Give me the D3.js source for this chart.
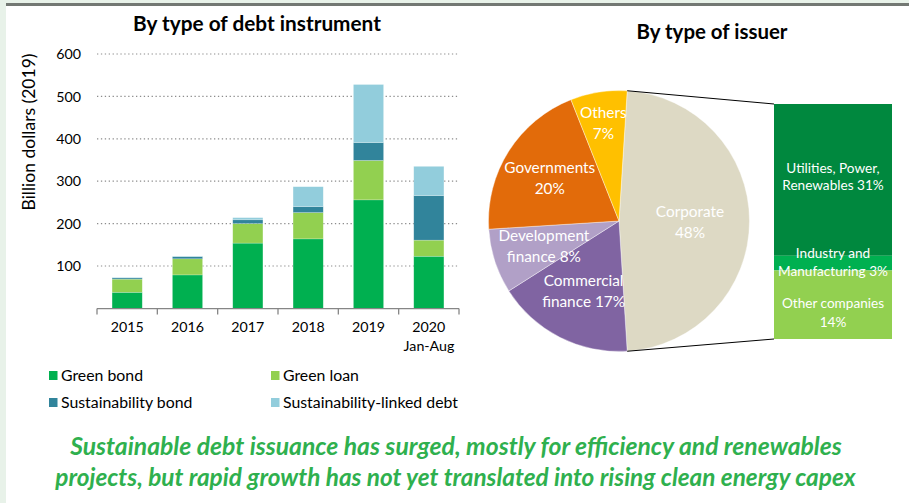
<!DOCTYPE html>
<html><head><meta charset="utf-8">
<script src="https://cdn.jsdelivr.net/npm/d3@7"></script>
<style>
html,body{margin:0;padding:0;background:#fff;}
svg{display:block;}
text{font-family:Lato,"Open Sans",sans-serif;}
</style></head>
<body>
<svg id="c" width="909" height="503"></svg>
<script>
// ---- data ----
const years = ["2015","2016","2017","2018","2019","2020"];
const greenBond = [38, 79, 154, 164, 256, 123];
const greenLoan = [31, 38, 46, 62, 93, 38];
const sustBond = [3, 5, 9, 14, 42, 105];
const sustLinked = [1, 1, 5, 47, 137, 69];
const seriesNames = ["Green bond","Green loan","Sustainability bond","Sustainability-linked debt"];
const yTicks = [100,200,300,400,500,600];

const issuerNames = ["Corporate","Commercial finance","Development finance","Governments","Others"];
const issuerShares = [48, 17, 8, 20, 7];
const issuerLabelLines = [["Corporate","48%"],["Commercial","finance 17%"],["Development","finance 8%"],["Governments","20%"],["Others","7%"]];
const corpNames = ["Utilities, Power, Renewables","Industry and Manufacturing","Other companies"];
const corpShares = [31, 3, 14];
const corpLabelLines = [["Utilities, Power,","Renewables 31%"],["Industry and","Manufacturing 3%"],["Other companies","14%"]];

// ---- styles ----
const seriesColors = ["#00b050","#92d050","#31849b","#92cddc"];
const issuerColors = ["#ddd9c4","#8064a2","#b1a0c7","#e26b0a","#ffc000"];
const corpColors = ["#00883e","#00b050","#92d050"];

const svg = d3.select("#c");

function fitSize(str, target, weight, family){
  const t = svg.append("text").attr("font-size",20).attr("font-weight",weight||"normal").text(str);
  if (family) t.attr("font-family",family);
  const w = t.node().getComputedTextLength();
  t.remove();
  return 20*target/w;
}
const fsTitle1 = fitSize("By type of debt instrument", 248, "bold");
const fsTitle2 = fitSize("By type of issuer", 151, "bold");
const fsTick = fitSize("2015", 33);
const fsYLab = fitSize("Billion dollars (2019)", 157);
const fsLeg = fitSize("Sustainability-linked debt", 175);
const fsPie = fitSize("Development", 91);
const fsBar = fitSize("Manufacturing 3%", 110);

// background frame
svg.append("rect").attr("x",0).attr("y",0).attr("width",909).attr("height",503).attr("fill","#e8f2e9");
svg.append("rect").attr("x",6).attr("y",3).attr("width",903).attr("height",500).attr("fill","#fff");
svg.append("rect").attr("x",6).attr("y",3).attr("width",903).attr("height",3).attr("fill","#737873");

// ---- bar chart ----
const x = d3.scaleBand().domain(years).range([97,459]).paddingInner(0.5).paddingOuter(0.25);
const y = d3.scaleLinear().domain([0,600]).range([308.4,54]);

svg.append("g").selectAll("line").data(yTicks).join("line")
  .attr("x1",97).attr("x2",459).attr("y1",d=>y(d)).attr("y2",d=>y(d))
  .attr("stroke","#8c8c8c").attr("stroke-width",1.2).attr("stroke-dasharray","1.3,2.6");

svg.append("g").selectAll("text").data(yTicks).join("text")
  .attr("x",81).attr("y",d=>y(d)+fsTick*0.36).attr("text-anchor","end")
  .attr("font-size",fsTick).attr("fill","#000").text(d=>d);

const rows = years.map((yr,i)=>({year:yr, s0:greenBond[i], s1:greenLoan[i], s2:sustBond[i], s3:sustLinked[i]}));
const stack = d3.stack().keys(["s0","s1","s2","s3"])(rows);
svg.append("g").selectAll("g").data(stack).join("g")
  .attr("fill",(d,i)=>seriesColors[i])
  .selectAll("rect").data(d=>d).join("rect")
  .attr("x",d=>x(d.data.year)).attr("width",x.bandwidth())
  .attr("y",d=>y(d[1])).attr("height",d=>Math.max(0,y(d[0])-y(d[1])))
  .attr("stroke","#ffffff").attr("stroke-opacity",0.35).attr("stroke-width",0.6);

// x axis
const step = x.step();
const x0 = 97;
svg.append("line").attr("x1",97).attr("x2",459).attr("y1",308.6).attr("y2",308.6)
  .attr("stroke","#868686").attr("stroke-width",1.3);
svg.append("g").selectAll("line").data(d3.range(years.length+1)).join("line")
  .attr("x1",i=>x0+i*step).attr("x2",i=>x0+i*step).attr("y1",308.6).attr("y2",314.5)
  .attr("stroke","#868686").attr("stroke-width",1.3);
svg.append("g").selectAll("text").data(years).join("text")
  .attr("x",d=>x(d)+x.bandwidth()/2).attr("y",332).attr("text-anchor","middle")
  .attr("font-size",fsTick).attr("fill","#000").text(d=>d);
svg.append("text").attr("x",429).attr("y",351).attr("text-anchor","middle")
  .attr("font-size",fsTick).attr("fill","#000").text("Jan-Aug");

svg.append("text").attr("transform","translate(35,132) rotate(-90)").attr("text-anchor","middle")
  .attr("font-size",fsYLab).attr("fill","#000").text("Billion dollars (2019)");
svg.append("text").attr("x",257).attr("y",31).attr("text-anchor","middle")
  .attr("font-size",fsTitle1).attr("font-weight","bold").attr("fill","#000").text("By type of debt instrument");

// legend
const legPos = [[49,376],[271,376],[49,403],[271,403]];
const leg = svg.append("g");
seriesNames.forEach((n,i)=>{
  leg.append("rect").attr("x",legPos[i][0]).attr("y",legPos[i][1]-5).attr("width",8.5).attr("height",9).attr("fill",seriesColors[i]);
  leg.append("text").attr("x",legPos[i][0]+12).attr("y",legPos[i][1]+5).attr("font-size",fsLeg).attr("fill","#000").text(n);
});

// ---- pie ----
const cx = 619, cy = 221, R = 130.5;
const corpFrac = issuerShares[0]/d3.sum(issuerShares);
const startA = (Math.PI/2) - corpFrac*Math.PI;
const pie = d3.pie().sort(null).value(d=>d).startAngle(startA).endAngle(startA+2*Math.PI);
const arcs = pie(issuerShares);
const arc = d3.arc().innerRadius(0).outerRadius(R);
const pg = svg.append("g").attr("transform",`translate(${cx},${cy})`);
pg.selectAll("path").data(arcs).join("path").attr("d",arc).attr("fill",(d,i)=>issuerColors[i])
  .attr("stroke","#fff").attr("stroke-width",0.4);
const labelR = [71,78,79,82,100];
arcs.forEach((a,i)=>{
  const m = (a.startAngle+a.endAngle)/2;
  const lx = labelR[i]*Math.sin(m), ly = -labelR[i]*Math.cos(m);
  const t = pg.append("text").attr("text-anchor","middle").attr("fill","#fff").attr("font-size",fsPie);
  issuerLabelLines[i].forEach((ln,k)=>{
    t.append("tspan").attr("x",lx).attr("y",ly-4+k*21).text(ln);
  });
});
svg.append("text").attr("x",712).attr("y",39).attr("text-anchor","middle")
  .attr("font-size",fsTitle2).attr("font-weight","bold").attr("fill","#000").text("By type of issuer");

// ---- bar of pie ----
const bx = 774, bw = 118;
const by = d3.scaleLinear().domain([0,d3.sum(corpShares)]).range([104,339]);
let acc = 0;
const bg = svg.append("g");
corpShares.forEach((v,i)=>{
  bg.append("rect").attr("x",bx).attr("width",bw).attr("y",by(acc)).attr("height",by(acc+v)-by(acc)).attr("fill",corpColors[i]);
  acc += v;
});
const corpLabelY = [[173,190],[258,276],[308,327]];
corpLabelLines.forEach((lines,i)=>{
  lines.forEach((ln,k)=>{
    bg.append("text").attr("x",bx+bw/2).attr("y",corpLabelY[i][k]).attr("text-anchor","middle")
      .attr("fill","#fff").attr("font-size",fsBar).text(ln);
  });
});
// connectors
const a0 = arcs[0].startAngle, a1 = arcs[0].endAngle;
svg.append("line").attr("x1",cx+R*Math.sin(a0)).attr("y1",cy-R*Math.cos(a0)).attr("x2",bx).attr("y2",by(0))
  .attr("stroke","#000").attr("stroke-width",1);
svg.append("line").attr("x1",cx+R*Math.sin(a1)).attr("y1",cy-R*Math.cos(a1)).attr("x2",bx).attr("y2",by(d3.sum(corpShares)))
  .attr("stroke","#000").attr("stroke-width",1);

// ---- caption ----
const capLines = ["Sustainable debt issuance has surged, mostly for efficiency and renewables",
                  "projects, but rapid growth has not yet translated into rising clean energy capex"];
const capTarget = [[70,842,455],[55,856,486]];
capLines.forEach((ln,i)=>{
  const t = svg.append("text").attr("x",(capTarget[i][0]+capTarget[i][1])/2).attr("y",capTarget[i][2])
    .attr("text-anchor","middle").attr("font-family","'DejaVu Sans',sans-serif")
    .attr("font-style","italic").attr("font-weight","bold").attr("fill","#2fb04e")
    .attr("font-size",20).text(ln);
  const w = t.node().getComputedTextLength();
  const fs = 20*(capTarget[i][1]-capTarget[i][0])/w;
  t.attr("font-size",fs);
});
</script>
</body></html>
